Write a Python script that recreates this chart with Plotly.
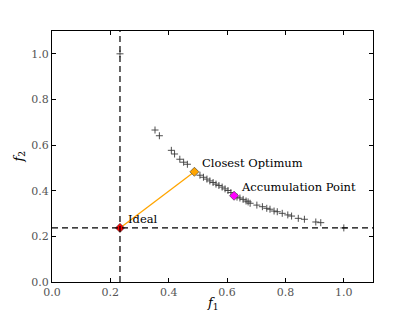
import plotly.graph_objects as go

# Pareto front approximation
front_f1 = [0.233, 0.353, 0.368, 0.409, 0.420, 0.438, 0.451, 0.464, 0.507, 0.519,
            0.531, 0.541, 0.552, 0.562, 0.572, 0.583, 0.593, 0.603, 0.613, 0.634,
            0.644, 0.655, 0.665, 0.672, 0.679, 0.702, 0.721, 0.736, 0.747, 0.761,
            0.772, 0.789, 0.808, 0.821, 0.844, 0.865, 0.904, 0.921, 1.000]
front_f2 = [1.000, 0.666, 0.641, 0.577, 0.561, 0.538, 0.525, 0.516, 0.468, 0.459,
            0.451, 0.443, 0.436, 0.429, 0.423, 0.416, 0.408, 0.401, 0.392, 0.372,
            0.368, 0.362, 0.355, 0.351, 0.345, 0.337, 0.330, 0.323, 0.319, 0.311,
            0.308, 0.301, 0.294, 0.289, 0.279, 0.275, 0.263, 0.260, 0.237]

ideal = (0.233, 0.237)
closest = (0.488, 0.483)
accum = (0.624, 0.378)

labels = ["Ideal", "Closest Optimum", "Accumulation Point"]
label_pos = [(0.252, 0.278), (0.507, 0.52), (0.641, 0.416)]

xticks = [0.0, 0.2, 0.4, 0.6, 0.8, 1.0]
yticks = [0.0, 0.2, 0.4, 0.6, 0.8, 1.0]

fig = go.Figure()

fig.add_hline(y=ideal[1], line=dict(color="black", width=1.2, dash="6px,4px"))
fig.add_vline(x=ideal[0], line=dict(color="black", width=1.2, dash="6px,4px"))

fig.add_trace(go.Scatter(x=front_f1, y=front_f2, mode="markers",
                         marker=dict(symbol="cross-thin", size=5,
                                     line=dict(color="#3a3a3a", width=0.9)),
                         showlegend=False))

fig.add_trace(go.Scatter(x=[ideal[0], closest[0]], y=[ideal[1], closest[1]],
                         mode="lines", line=dict(color="orange", width=1.3),
                         showlegend=False))

for pt, col in [(ideal, "red"), (closest, "orange"), (accum, "magenta")]:
    fig.add_trace(go.Scatter(x=[pt[0]], y=[pt[1]], mode="markers",
                             marker=dict(symbol="diamond", size=7, color=col,
                                         line=dict(color="#333333", width=0.6)),
                             showlegend=False))

for txt, (x, y) in zip(labels, label_pos):
    fig.add_annotation(x=x, y=y, text=txt, showarrow=False, xanchor="left",
                       yanchor="middle",
                       font=dict(family="DejaVu Serif", size=11.5, color="black"))

# axis titles
fig.add_annotation(x=0.5, y=-0.045, xref="paper", yref="paper",
                   text="<i>f</i><sub>1</sub>", showarrow=False,
                   xanchor="center", yanchor="top",
                   font=dict(family="DejaVu Serif", size=13, color="black"))
fig.add_annotation(x=-0.07, y=0.5, xref="paper", yref="paper",
                   text="<i>f</i><sub>2</sub>", showarrow=False, textangle=-90,
                   xanchor="right", yanchor="middle",
                   font=dict(family="DejaVu Serif", size=13, color="black"))

axis_common = dict(range=[0, 1.1], showgrid=False, zeroline=False, automargin=False,
                   showline=True, linecolor="black", linewidth=1, mirror="ticks",
                   ticks="inside", ticklen=4, tickcolor="black",
                   tickfont=dict(family="DejaVu Serif", size=11, color="#555555"))

fig.update_xaxes(**axis_common, tickvals=xticks,
                 ticktext=[f"{v:.1f}" for v in xticks])
fig.update_yaxes(**axis_common, tickvals=yticks,
                 ticktext=[f"{v:.1f}" for v in yticks])

# page body has an 8px margin; figure offset by it inside the 415x313 window
fig.update_layout(width=407, height=305, margin=dict(l=44, r=42, t=23, b=31),
                  plot_bgcolor="white", paper_bgcolor="white")

fig.write_html("out.html")
